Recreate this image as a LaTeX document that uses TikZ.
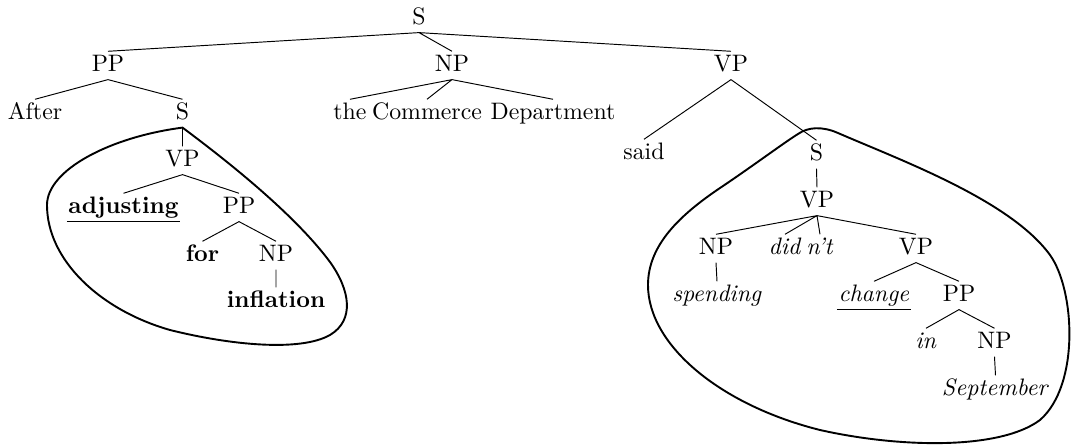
\documentclass[tikz,border=0pt]{standalone}

\begin{document}
\begin{tikzpicture}[x=0.42pt, y=-0.42pt,
    every node/.style={anchor=base, inner xsep=0.5pt, inner ysep=1.5pt,
      text height=7pt, text depth=1.5pt},
    branch/.style={line width=0.4pt},
    blob/.style={line width=0.8pt},
    uline/.style={line width=0.7pt}]
      \useasboundingbox (0,0) rectangle (1072,445);

      \node (s) at (419,25) {S};
      \node (pp) at (108,72) {PP};
      \node (np) at (452,72) {NP};
      \node (vp) at (731,72) {VP};

      \node (after) at (35,120) {After};
      \node (s2) at (182.5,120) {S};
      \node (the) at (350,120) {the};
      \node (commerce) at (427,120) {Commerce};
      \node (department) at (553,120) {Department};

      \node (vp2) at (182.5,167) {VP};
      \node (adj) at (123.5,214) {\textbf{adjusting}};
      \node (pp2) at (239,214) {PP};
      \node (forw) at (202.5,262) {\textbf{for}};
      \node (np2) at (276,262) {NP};
      \node (infl) at (276,308) {\textbf{inflation}};

      \node (said) at (644,160) {said};
      \node (s3) at (816.5,161) {S};
      \node (vp3) at (817,208) {VP};
      \node (np3) at (716,255) {NP};
      \node (did) at (785,255) {\textit{did}};
      \node (nt) at (820,255) {\textit{n't}};
      \node (vp4) at (916,255) {VP};
      \node (spend) at (717,302) {\textit{spending}};
      \node (change) at (874,302) {\textit{change}};
      \node (pp3) at (959,302) {PP};
      \node (inw) at (926,349) {\textit{in}};
      \node (np4) at (994.5,349) {NP};
      \node (sept) at (995.5,396) {\textit{September}};

      \draw[branch]
        (s.south) -- (pp.north)
        (s.south) -- (np.north)
        (s.south) -- (vp.north)
        (pp.south) -- (after.north)
        (pp.south) -- (s2.north)
        (np.south) -- (the.north)
        (np.south) -- (commerce.north)
        (np.south) -- (department.north)
        (vp.south) -- (said.north)
        (vp.south) -- (s3.north)
      ;

      \draw[branch]
        (s2.south) -- (vp2.north)
        (vp2.south) -- (adj.north)
        (vp2.south) -- (pp2.north)
        (pp2.south) -- (forw.north)
        (pp2.south) -- (np2.north)
        (np2.south) -- (infl.north)
      ;

      \draw[branch]
        (s3.south) -- (vp3.north)
        (vp3.south) -- (np3.north)
        (vp3.south) -- (did.north)
        (vp3.south) -- (nt.north)
        (vp3.south) -- (vp4.north)
        (np3.south) -- (spend.north)
        (vp4.south) -- (change.north)
        (vp4.south) -- (pp3.north)
        (pp3.south) -- (inw.north)
        (pp3.south) -- (np4.north)
        (np4.south) -- (sept.north)
      ;

      \draw[uline]
        (adj.south west) -- (adj.south east)
        (change.south west) -- (change.south east)
      ;

      \draw[blob] (s2.south) .. controls (230,163) and (295,215) .. (330,262)
        .. controls (350,290) and (355,320) .. (330,335)
        .. controls (300,352) and (230,345) .. (170,330)
        .. controls (100,310) and (47,260) .. (47,205)
        .. controls (47,170) and (110,137) .. cycle;

      \draw[blob] (798,134) .. controls (808,127) and (822,126) .. (838,133)
        .. controls (900,160) and (1010,200) .. (1050,255)
        .. controls (1075,290) and (1080,385) .. (1040,420)
        .. controls (1000,450) and (900,448) .. (820,430)
        .. controls (720,405) and (648,345) .. (648,285)
        .. controls (648,245) and (680,215) .. (720,188)
        .. controls (750,168) and (785,142) .. cycle;
    \end{tikzpicture}
\end{document}
